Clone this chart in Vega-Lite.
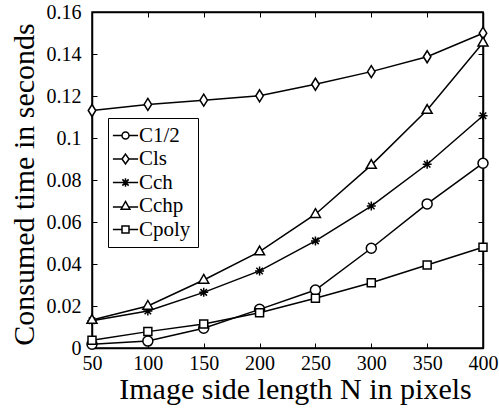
{
  "$schema": "https://vega.github.io/schema/vega-lite/v6.json",
  "width": 391,
  "height": 336,
  "autosize": {"type": "none"},
  "padding": {"left": 92, "top": 12, "right": 16, "bottom": 62},
  "background": "white",
  "config": {
    "view": {"stroke": "black", "strokeWidth": 1.5},
    "font": "Liberation Serif",
    "axis": {
      "domainColor": "black", "domainWidth": 1.5,
      "tickColor": "black", "tickWidth": 1, "tickSize": -5,
      "labelFont": "Liberation Serif", "labelFontSize": 20, "labelColor": "black",
      "labelFlush": false, "labelOverlap": false,
      "titleFont": "Liberation Serif", "titleFontSize": 30, "titleFontWeight": "normal", "titleColor": "black",
      "grid": false
    }
  },
  "data": {"values": [
    {"N": 50, "s": "C1/2", "t": 0.0018}, {"N": 100, "s": "C1/2", "t": 0.0033}, {"N": 150, "s": "C1/2", "t": 0.0094}, {"N": 200, "s": "C1/2", "t": 0.0184},
    {"N": 250, "s": "C1/2", "t": 0.0276}, {"N": 300, "s": "C1/2", "t": 0.0475}, {"N": 350, "s": "C1/2", "t": 0.0686}, {"N": 400, "s": "C1/2", "t": 0.088},
    {"N": 50, "s": "Cls", "t": 0.1131}, {"N": 100, "s": "Cls", "t": 0.116}, {"N": 150, "s": "Cls", "t": 0.118}, {"N": 200, "s": "Cls", "t": 0.1201},
    {"N": 250, "s": "Cls", "t": 0.1256}, {"N": 300, "s": "Cls", "t": 0.1316}, {"N": 350, "s": "Cls", "t": 0.1387}, {"N": 400, "s": "Cls", "t": 0.1499},
    {"N": 50, "s": "Cch", "t": 0.013}, {"N": 100, "s": "Cch", "t": 0.0176}, {"N": 150, "s": "Cch", "t": 0.0265}, {"N": 200, "s": "Cch", "t": 0.0367},
    {"N": 250, "s": "Cch", "t": 0.051}, {"N": 300, "s": "Cch", "t": 0.0676}, {"N": 350, "s": "Cch", "t": 0.0875}, {"N": 400, "s": "Cch", "t": 0.1106},
    {"N": 50, "s": "Cchp", "t": 0.0133}, {"N": 100, "s": "Cchp", "t": 0.02}, {"N": 150, "s": "Cchp", "t": 0.0324}, {"N": 200, "s": "Cchp", "t": 0.0459},
    {"N": 250, "s": "Cchp", "t": 0.0637}, {"N": 300, "s": "Cchp", "t": 0.0871}, {"N": 350, "s": "Cchp", "t": 0.1133}, {"N": 400, "s": "Cchp", "t": 0.1454},
    {"N": 50, "s": "Cpoly", "t": 0.0037}, {"N": 100, "s": "Cpoly", "t": 0.0078}, {"N": 150, "s": "Cpoly", "t": 0.0114}, {"N": 200, "s": "Cpoly", "t": 0.0168},
    {"N": 250, "s": "Cpoly", "t": 0.0237}, {"N": 300, "s": "Cpoly", "t": 0.0311}, {"N": 350, "s": "Cpoly", "t": 0.0395}, {"N": 400, "s": "Cpoly", "t": 0.048}
  ]},
  "layer": [
    {
      "mark": {"type": "line", "color": "black", "strokeWidth": 1.5},
      "encoding": {
        "x": {"field": "N", "type": "quantitative", "scale": {"domain": [50, 400], "nice": false, "zero": false},
              "axis": {"values": [50, 100, 150, 200, 250, 300, 350, 400], "labelPadding": 10, "title": "Image side length N in pixels", "titleX": 203, "titleY": 50, "titleBaseline": "alphabetic", "titleAlign": "center"}},
        "y": {"field": "t", "type": "quantitative", "scale": {"domain": [0, 0.16], "nice": false},
              "axis": {"values": [0, 0.02, 0.04, 0.06, 0.08, 0.1, 0.12, 0.14, 0.16], "format": ".2~f", "labelPadding": 16, "title": "Consumed time in seconds", "titleX": -59, "titleY": 172, "titleAngle": -90, "titleBaseline": "alphabetic", "titleAlign": "center"}},
        "detail": {"field": "s"}
      }
    },
    {
      "mark": {"type": "point", "filled": true, "fill": "white", "stroke": "black", "strokeWidth": 1.5, "size": 100, "opacity": 1},
      "encoding": {
        "x": {"field": "N", "type": "quantitative", "axis": {"orient": "top", "values": [50, 100, 150, 200, 250, 300, 350, 400], "labels": false, "title": null}},
        "y": {"field": "t", "type": "quantitative", "axis": {"orient": "right", "values": [0, 0.02, 0.04, 0.06, 0.08, 0.1, 0.12, 0.14, 0.16], "labels": false, "title": null}},
        "shape": {"field": "s", "type": "nominal", "legend": null,
          "scale": {"domain": ["C1/2", "Cls", "Cch", "Cchp", "Cpoly"],
                    "range": ["circle", "M0,-1.2L0.75,0L0,1.2L-0.75,0Z", "M-0.9,0H0.9M0,-0.9V0.9M-0.65,-0.65L0.65,0.65M-0.65,0.65L0.65,-0.65", "M0,-1.1L1,0.65L-1,0.65Z", "M-0.8,-0.8H0.8V0.8H-0.8Z"]}}
      }
    },
    {
      "mark": {"type": "point", "filled": false, "color": "black", "opacity": 0, "size": 49},
      "encoding": {
        "x": {"field": "N", "type": "quantitative", "axis": null},
        "y": {"field": "t", "type": "quantitative", "axis": null},
        "shape": {"field": "s", "type": "nominal",
          "scale": {"domain": ["C1/2", "Cls", "Cch", "Cchp", "Cpoly"],
                    "range": ["M-3.6,0H-1M1,0H3.6M-1,0A1,1,0,1,1,1,0A1,1,0,1,1,-1,0Z", "M-3.6,0H-1M1,0H3.6M0,-1.4L1,0L0,1.4L-1,0Z", "M-3.6,0H3.6M0,-1.2V1.2M-0.9,-0.9L0.9,0.9M-0.9,0.9L0.9,-0.9", "M-3.6,0.3H-0.98M0.98,0.3H3.6M0,-1.3L1.25,0.9L-1.25,0.9Z", "M-3.6,0H-1M1,0H3.6M-1,-1H1V1H-1Z"]},
          "legend": {"orient": "none", "legendX": 16, "legendY": 106, "title": null, "symbolSize": 49, "symbolOpacity": 1, "symbolStrokeColor": "black", "symbolStrokeWidth": 1.5, "symbolFillColor": "transparent", "strokeColor": "black", "fillColor": "white", "padding": 7, "rowPadding": 1.5, "labelOffset": 3,
                     "labelFont": "Liberation Serif", "labelFontSize": 21, "labelColor": "black", "labelLimit": 200}}
      }
    }
  ],
  "resolve": {"scale": {"shape": "independent"}, "axis": {"x": "independent", "y": "independent"}}
}
